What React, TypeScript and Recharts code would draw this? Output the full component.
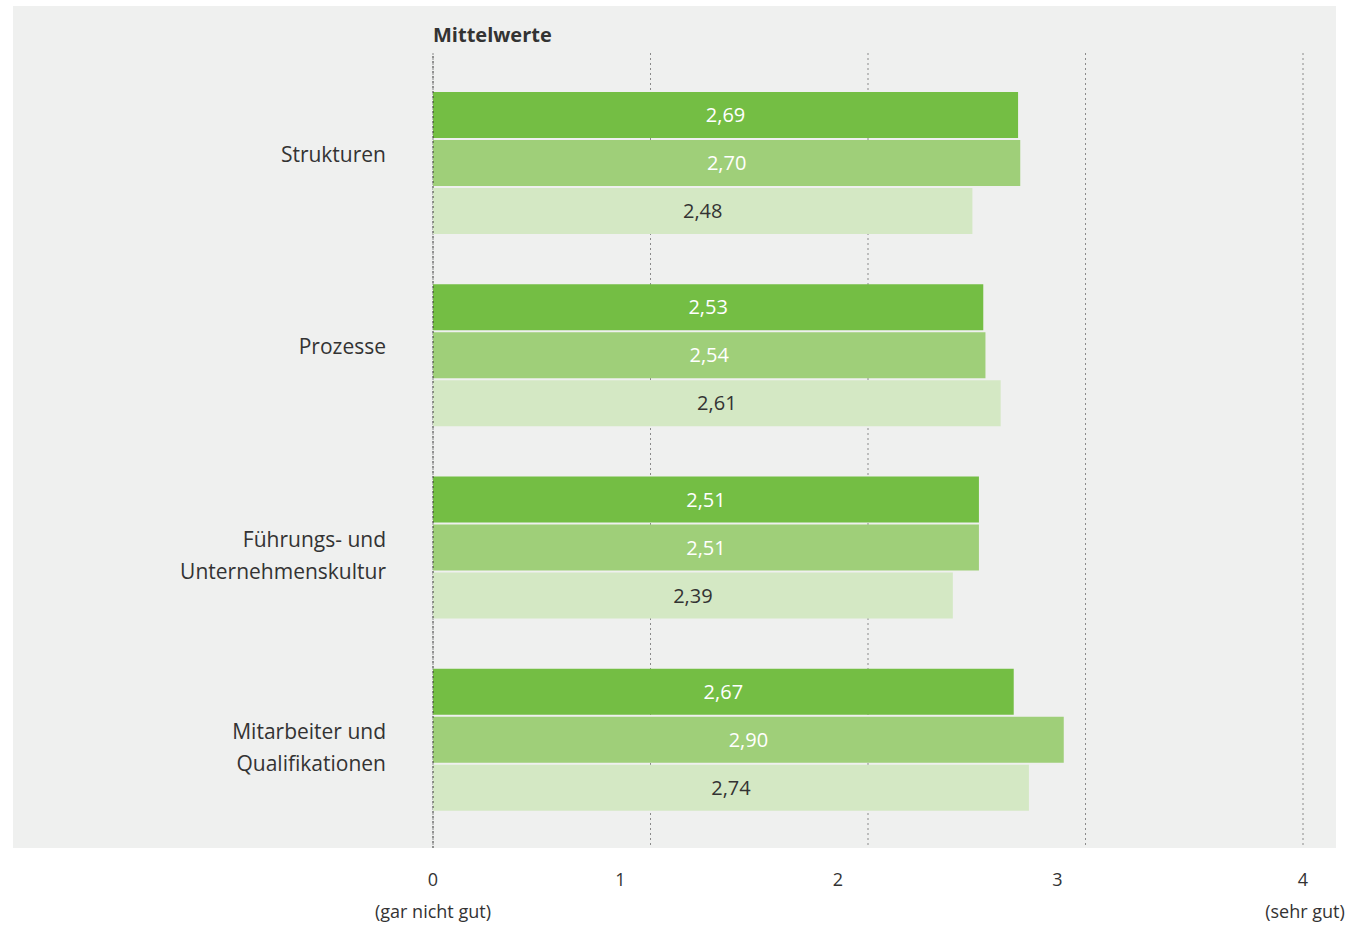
import { BarChart, Bar, XAxis, YAxis, CartesianGrid, ReferenceLine, LabelList } from 'recharts';

const categories = [
  'Strukturen',
  'Prozesse',
  'Führungs- und\nUnternehmenskultur',
  'Mitarbeiter und\nQualifikationen',
];
const seriesDark = [2.69, 2.53, 2.51, 2.67];
const seriesMid = [2.7, 2.54, 2.51, 2.9];
const seriesLight = [2.48, 2.61, 2.39, 2.74];

const xTicks = [0, 1, 2, 3, 4];
const xTickNotes = ['(gar nicht gut)', '', '', '', '(sehr gut)'];
const xTickShift = [0, -30, -30, -28, 0];

const data = categories.map((name, i) => ({
  name,
  dark: seriesDark[i],
  mid: seriesMid[i],
  light: seriesLight[i],
}));

const FONT = '"Open Sans", "Noto Sans", sans-serif';
const TEXT = '#333333';

const fmt = (v: number | string) => Number(v).toFixed(2).replace('.', ',');

function CategoryTick({ x, y, payload }: any) {
  const lines = String(payload.value).split('\n');
  return (
    <text x={x} y={y} textAnchor="end" fill={TEXT} fontSize={21} fontFamily={FONT}>
      {lines.map((line, i) => (
        <tspan key={i} x={x} dy={i === 0 ? -1 : 32}>
          {line}
        </tspan>
      ))}
    </text>
  );
}

function ValueTick({ x, y, payload }: any) {
  const i = xTicks.indexOf(payload.value);
  const tx = x + (xTickShift[i] ?? 0);
  return (
    <g>
      <text x={tx} y={y + 38} textAnchor="middle" fill={TEXT} fontSize={18} fontFamily={FONT}>
        {payload.value}
      </text>
      {xTickNotes[i] ? (
        <text x={tx + (i === 4 ? 2 : 0)} y={y + 70} textAnchor="middle" fill={TEXT} fontSize={18} fontFamily={FONT}>
          {xTickNotes[i]}
        </text>
      ) : null}
    </g>
  );
}

export default function App() {
  return (
    <div style={{ position: 'absolute', left: 0, top: 0, width: 1352, height: 926, background: '#ffffff' }}>
      <div
        style={{ position: 'absolute', left: 13, top: 6, width: 1323, height: 842, background: '#eff0ef' }}
      />
      <div
        style={{
          position: 'absolute',
          left: 433,
          top: 21,
          fontFamily: FONT,
          fontWeight: 700,
          fontSize: 20,
          color: TEXT,
          lineHeight: '28px',
        }}
      >
        Mittelwerte
      </div>
      <div style={{ position: 'absolute', left: 0, top: 0 }}>
        <BarChart
          width={1352}
          height={926}
          data={data}
          layout="vertical"
          margin={{ top: 53, right: 49, bottom: 0, left: 0 }}
          barSize={46}
          barGap={2}
        >
          <CartesianGrid horizontal={false} stroke="#8a8a8a" strokeDasharray="2 3" />
          <XAxis
            type="number"
            domain={[0, 4]}
            ticks={xTicks}
            axisLine={false}
            tickLine={false}
            tickSize={0}
            tickMargin={0}
            height={78}
            tick={<ValueTick />}
          />
          <YAxis
            type="category"
            dataKey="name"
            width={433}
            axisLine={false}
            tickLine={false}
            tickSize={0}
            tickMargin={47}
            padding={{ top: 14, bottom: 12 }}
            tick={<CategoryTick />}
          />
          <ReferenceLine x={0} stroke="#333333" strokeDasharray="2 3" />
          <Bar dataKey="dark" fill="#74be44" isAnimationActive={false}>
            <LabelList dataKey="dark" position="center" fill="#ffffff" fontSize={20} fontFamily={FONT} formatter={fmt} />
          </Bar>
          <Bar dataKey="mid" fill="#9fcf79" isAnimationActive={false}>
            <LabelList dataKey="mid" position="center" fill="#ffffff" fontSize={20} fontFamily={FONT} formatter={fmt} />
          </Bar>
          <Bar dataKey="light" fill="#d4e8c4" isAnimationActive={false}>
            <LabelList dataKey="light" position="center" fill={TEXT} fontSize={20} fontFamily={FONT} formatter={fmt} />
          </Bar>
        </BarChart>
      </div>
    </div>
  );
}
